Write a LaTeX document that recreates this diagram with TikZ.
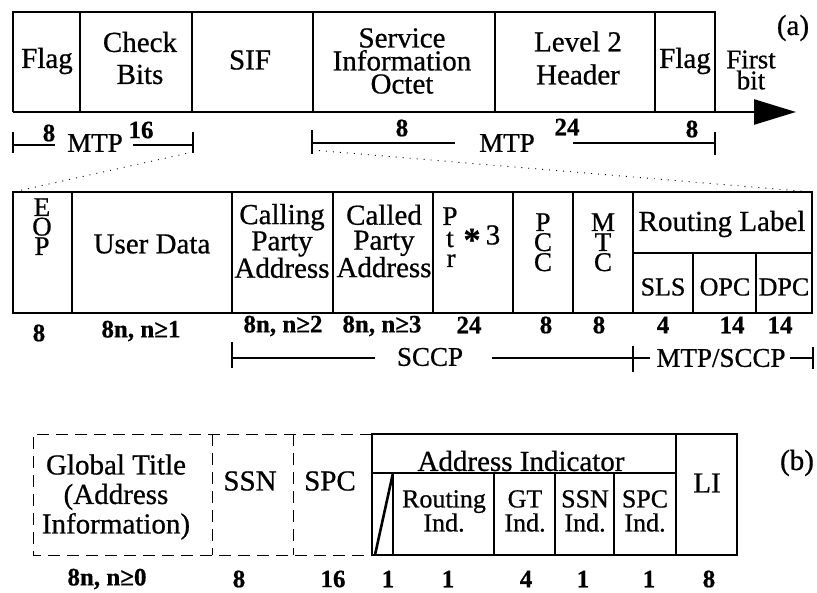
\documentclass[tikz,border=0pt]{standalone}
\usepackage{fontspec}
\setmainfont{Liberation Serif}[FakeBold=0.7]
\usetikzlibrary{arrows.meta}
\begin{document}
\begin{tikzpicture}[x=1pt,y=-1pt,
  box/.style={line width=2.6pt},
  lbl/.style={font=\fontsize{29}{25}\selectfont, inner sep=0pt, align=center},
  sml/.style={font=\fontsize{26}{24}\selectfont, inner sep=0pt, align=center},
  letter/.style={font=\fontsize{27}{24}\selectfont, inner sep=0pt, anchor=base},
  num/.style={font=\fontsize{25}{25}\selectfont\bfseries, inner sep=0pt},
  brk/.style={line width=2.4pt},
  dashbox/.style={line width=0.9pt, dash pattern=on 12pt off 7pt},
  dotline/.style={line width=0.9pt, dash pattern=on 1pt off 6pt},
]
\useasboundingbox (0,0) rectangle (817,593);

% ---------- (a) MTP frame ----------
\draw[box] (13,112) -- (13,12) -- (715,12) -- (715,112);
\draw[box,-{Triangle[length=42pt,width=25pt]}] (13,112) -- (796,112);
\foreach \x in {80,192,313,495,655} \draw[box] (\x,12) -- (\x,112);

\node[lbl] (flagA) at (47,61) {Flag};
\node[lbl,font=\fontsize{29}{29}\selectfont] (check) at (140,58) {Check\\[3pt]Bits};
\node[lbl] (sif) at (250,60) {SIF};
\node[lbl,font=\fontsize{29}{29}\selectfont] (sio) at (402,61) {Service\\[-6pt]Information\\[-6pt]Octet};
\node[lbl,font=\fontsize{29}{29}\selectfont] (l2h) at (578,58) {Level 2\\[4pt]Header};
\node[lbl] (flagB) at (685,61) {Flag};
\node[lbl,font=\fontsize{27}{27}\selectfont] (first) at (751,70) {First\\[-6pt]bit};
\node[lbl] (taga) at (793,28) {(a)};

% brackets under (a)
\coordinate (b1l) at (13,145);
\coordinate (b1r) at (193,145);
\node[num] (n8a) at (49,133) {8};
\node[lbl,font=\fontsize{27}{27}\selectfont] (mtp1) at (95,143) {MTP};
\node[num] (n16) at (141,130) {16};
\draw[brk] (13,132) -- (13,153);
\draw[brk] (b1l) -- (55,145);
\draw[brk] (133,145) -- (b1r);
\draw[brk] (193,132) -- (193,153);

\coordinate (b2l) at (312,143);
\coordinate (b2r) at (715,143);
\node[num] (n8b) at (402,128) {8};
\node[lbl,font=\fontsize{27}{27}\selectfont] (mtp2) at (507,143) {MTP};
\node[num] (n24) at (567,127) {24};
\node[num] (n8c) at (692,129) {8};
\draw[brk] (312,130) -- (312,154);
\draw[brk] (b2l) -- (455,143);
\draw[brk] (573,143) -- (b2r);
\draw[brk] (715,132) -- (715,155);

% ---------- SCCP message ----------
\coordinate (r2tl) at (13,192);
\coordinate (r2tr) at (812,192);
\draw[dotline] (193,152) -- (r2tl);
\draw[dotline] (312,150) -- (r2tr);

\draw[box] (13,192) rectangle (812,313);
\foreach \x in {72,232,333,433,513,573,633} \draw[box] (\x,192) -- (\x,313);
\draw[box] (633,253) -- (812,253);
\draw[box] (693,253) -- (693,313);
\draw[box] (756,253) -- (756,313);

\node[letter] (eopE) at (42,216) {E};
\node[letter] (eopO) at (42,235.5) {O};
\node[letter] (eopP) at (42,255) {P};
\node[lbl] (ud) at (152,244) {User Data};
\node[lbl] (cgpa) at (282,241) {Calling\\Party\\Address};
\node[lbl] (cdpa) at (384,241) {Called\\Party\\Address};
\node[letter] (ptrP) at (450,225) {P};
\node[letter] (ptrt) at (450,247) {t};
\node[letter] (ptrr) at (451,267) {r};
\node[lbl,font=\fontsize{34}{34}\selectfont\bfseries] (star) at (472,240) {*};
\node[lbl] (three) at (493,235) {3};
\node[letter] (pccP) at (543,231) {P};
\node[letter] (pccC) at (543,251) {C};
\node[letter] (pccC2) at (543,271) {C};
\node[letter] (mtcM) at (603,231) {M};
\node[letter] (mtcT) at (603,251) {T};
\node[letter] (mtcC) at (603,271) {C};
\node[lbl] (rl) at (722,224) {Routing Label};
\node[sml] (sls) at (663,287) {SLS};
\node[sml] (opc) at (725,287) {OPC};
\node[sml] (dpc) at (784,287) {DPC};

\node[num] (s1) at (39,333) {8};
\node[num] (s2) at (141,331) {8n, n≥1};
\node[num] (s3) at (283,326) {8n, n≥2};
\node[num] (s4) at (382,326) {8n, n≥3};
\node[num] (s5) at (469,325) {24};
\node[num] (s6) at (546,325) {8};
\node[num] (s7) at (599,325) {8};
\node[num] (s8) at (663,325) {4};
\node[num] (s9) at (732,325) {14};
\node[num] (s10) at (780,325) {14};

\coordinate (c1) at (232,358);
\coordinate (c2) at (633,358);
\coordinate (c3) at (813,358);
\node[lbl,font=\fontsize{27}{27}\selectfont] (sccp) at (430,357) {SCCP};
\node[lbl,font=\fontsize{27}{27}\selectfont] (mtpsccp) at (721,358) {MTP/SCCP};
\draw[brk] (232,342) -- (232,368);
\draw[brk] (c1) -- (375,358);
\draw[brk] (492,358) -- (c2) -- (650,358);
\draw[brk] (633,346) -- (633,372);
\draw[brk] (790,358) -- (c3);
\draw[brk] (813,347) -- (813,369);

% ---------- (b) address ----------
\draw[dashbox] (372,434) -- (33,434) -- (33,555) -- (372,555);
\draw[dashbox] (212,434) -- (212,555);
\draw[dashbox] (293,434) -- (293,555);

\draw[box] (372,434) rectangle (737,555);
\draw[box] (372,473) -- (676,473);
\draw[box] (676,434) -- (676,555);
\foreach \x in {393,494,555,614} \draw[box] (\x,473) -- (\x,555);
\draw[box] (375,555) -- (393,473);

\node[lbl,font=\fontsize{29}{29.5}\selectfont] (gt) at (116,497) {Global Title\\(Address\\Information)};
\node[lbl] (ssn) at (250,481) {SSN};
\node[lbl] (spc) at (330,481) {SPC};
\node[lbl] (ai) at (521,461) {Address Indicator};
\node[sml] (ri) at (444,511) {Routing\\Ind.};
\node[sml] (gti) at (525,511) {GT\\Ind.};
\node[sml] (ssni) at (585,511) {SSN\\Ind.};
\node[sml] (spci) at (645,511) {SPC\\Ind.};
\node[lbl] (li) at (707,483) {LI};
\node[lbl] (tagb) at (797,463) {(b)};

\node[num] (t1) at (107,579) {8n, n≥0};
\node[num] (t2) at (239,579) {8};
\node[num] (t3) at (333,579) {16};
\node[num] (t4) at (388,579) {1};
\node[num] (t5) at (448,579) {1};
\node[num] (t6) at (526,579) {4};
\node[num] (t7) at (583,579) {1};
\node[num] (t8) at (649,579) {1};
\node[num] (t9) at (709,579) {8};
\end{tikzpicture}
\end{document}
